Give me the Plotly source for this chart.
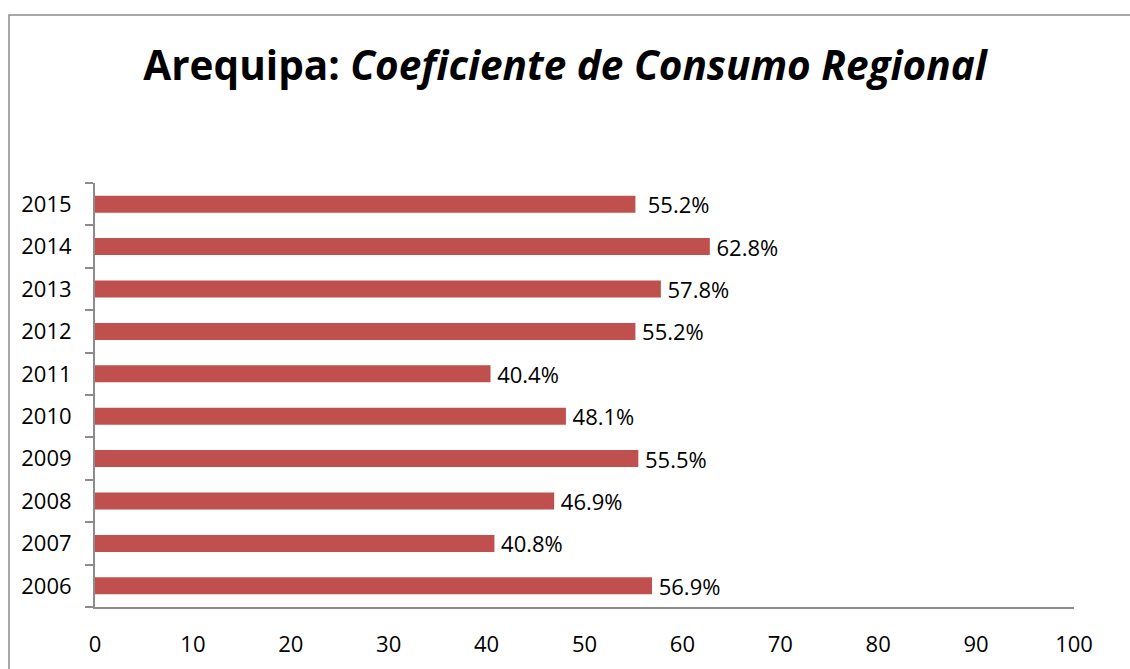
import plotly.graph_objects as go

years = ["2006", "2007", "2008", "2009", "2010", "2011", "2012", "2013", "2014", "2015"]
values = [56.9, 40.8, 46.9, 55.5, 48.1, 40.4, 55.2, 57.8, 62.8, 55.2]
label_pad = ["\u2009"] * 9 + ["\u00a0\u2009"]
labels = [p + f"{v:.1f}%" for p, v in zip(label_pad, values)]
x_ticks = [0, 10, 20, 30, 40, 50, 60, 70, 80, 90, 100]

W, H = 1130, 669
L, R, T, B = 95, 56, 183, 62
pw, ph = W - L - R, H - T - B

FONT = "Open Sans"

fig = go.Figure(go.Bar(
    y=years, x=values, orientation="h",
    marker=dict(color="#C0504D", line=dict(width=0)),
    width=0.4,
    text=labels, textposition="outside", cliponaxis=False, constraintext="none",
    textfont=dict(family=FONT, size=22, color="#000000"),
))

fig.update_layout(
    width=W, height=H,
    margin=dict(l=L, r=R, t=T, b=B, autoexpand=False),
    paper_bgcolor="white", plot_bgcolor="white",
    showlegend=False,
    title=dict(
        text="<b>Arequipa: <i>Coeficiente de Consumo Regional</i></b>",
        x=0.5, xanchor="center", y=1 - 66 / H, yanchor="middle",
        font=dict(family=FONT, size=40.5, color="#000000"),
    ),
    xaxis=dict(
        range=[0, 100], tickvals=x_ticks, showgrid=False, zeroline=False,
        showline=True, linecolor="#8C8C8C", linewidth=2,
        ticks="", ticklabelstandoff=17, automargin=False,
        tickfont=dict(family=FONT, size=22, color="#000000"),
    ),
    yaxis=dict(
        categoryorder="array", categoryarray=years,
        showgrid=False, zeroline=False, automargin=False,
        showline=True, linecolor="#8C8C8C", linewidth=2,
        ticks="outside", tickson="boundaries", ticklen=8, tickcolor="#8C8C8C", tickwidth=1.5,
        ticklabelstandoff=17,
        tickfont=dict(family=FONT, size=22, color="#000000"),
    ),
)

# outer chart border (top and left edges visible)
fig.add_shape(
    type="rect", xref="paper", yref="paper",
    x0=(9 - L) / pw, x1=(W + 20 - L) / pw,
    y0=-(B + 20) / ph, y1=1 + (T - 15) / ph,
    line=dict(color="#8C8C8C", width=1.5), fillcolor="rgba(0,0,0,0)", layer="below",
)

fig.write_html(
    "out.html",
    config={"displayModeBar": False},
    post_script="document.body.style.margin='0';document.body.style.overflow='hidden';",
)
